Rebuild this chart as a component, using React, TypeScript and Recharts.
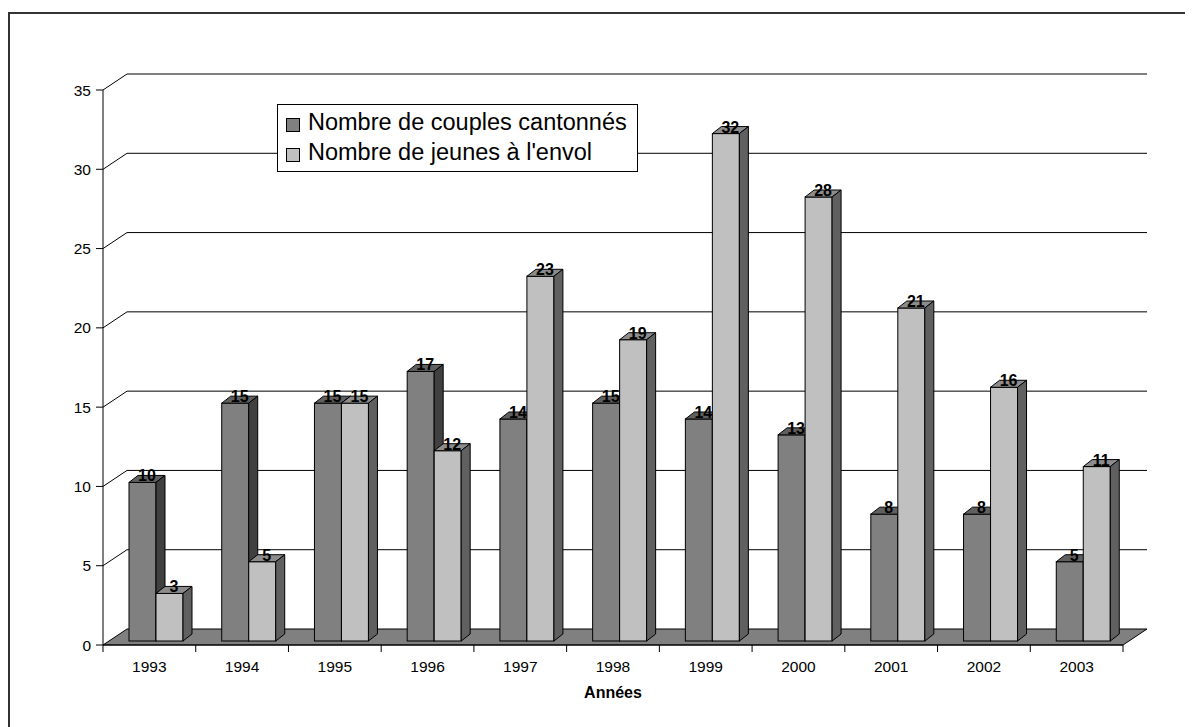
import React from "react";
import { Bar, BarChart, CartesianGrid, XAxis, YAxis } from "recharts";

const YEARS = ["1993", "1994", "1995", "1996", "1997", "1998", "1999", "2000", "2001", "2002", "2003"];
const COUPLES = [10, 15, 15, 17, 14, 15, 14, 13, 8, 8, 5];
const JEUNES = [3, 5, 15, 12, 23, 19, 32, 28, 21, 16, 11];
const Y_TICKS = [0, 5, 10, 15, 20, 25, 30, 35];
const SERIES_NAMES = ["Nombre de couples cantonnés", "Nombre de jeunes à l'envol"];

const data = YEARS.map((year, i) => ({ year, couples: COUPLES[i], jeunes: JEUNES[i] }));

const FONT = '"Liberation Sans", Arial, sans-serif';
const W = 1185;
const H = 719;
const MARGIN = { top: 82, right: 70, bottom: 22, left: 35 };
const Y_AXIS_W = 60;
const X_AXIS_H = 60;
const PLOT_BOTTOM = H - MARGIN.bottom - X_AXIS_H;
const PLOT_W = W - MARGIN.left - MARGIN.right - Y_AXIS_W;

// 3D offsets (back wall depth, bar placement, bar depth)
const WALL_DX = 24;
const WALL_DY = 16;
const BAR_DX = 7;
const BAR_DY = 4;
const SIDE_DX = 9;
const SIDE_DY = 7;

const DARK = { front: "#808080", top: "#606060", side: "#404040" };
const LIGHT = { front: "#c0c0c0", top: "#8c8c8c", side: "#606060" };

type Faces = { front: string; top: string; side: string };

function box3d(colors: Faces, key: "couples" | "jeunes") {
  return (props: any) => {
    const { x, y, width, height, payload } = props;
    const fx = x + BAR_DX;
    const fy = y - BAR_DY;
    const r = fx + width;
    const b = fy + height;
    return (
      <g>
        <rect x={fx} y={fy} width={width} height={height} fill={colors.front} stroke="#000" strokeWidth={1} />
        <polygon
          points={`${fx},${fy} ${fx + SIDE_DX},${fy - SIDE_DY} ${r + SIDE_DX},${fy - SIDE_DY} ${r},${fy}`}
          fill={colors.top}
          stroke="#000"
          strokeWidth={1}
        />
        <polygon
          points={`${r},${fy} ${r + SIDE_DX},${fy - SIDE_DY} ${r + SIDE_DX},${b - SIDE_DY} ${r},${b}`}
          fill={colors.side}
          stroke="#000"
          strokeWidth={1}
        />
        <text
          x={fx + width / 2 + SIDE_DX / 2}
          y={fy - 1}
          textAnchor="middle"
          fontFamily={FONT}
          fontWeight="bold"
          fontSize={16}
          fill="#000"
        >
          {payload[key]}
        </text>
      </g>
    );
  };
}

// back wall gridlines, the zero line becomes the floor
const gridLine = (props: any) => {
  const { x1, x2, y1 } = props;
  if (Math.abs(y1 - PLOT_BOTTOM) < 1) {
    return (
      <polygon
        key="floor"
        points={`${x1},${y1} ${x2},${y1} ${x2 + WALL_DX},${y1 - WALL_DY} ${x1 + WALL_DX},${y1 - WALL_DY}`}
        fill="#808080"
        stroke="#000"
        strokeWidth={1}
      />
    );
  }
  return (
    <path
      key={`g-${y1}`}
      d={`M${x1},${y1} L${x1 + WALL_DX},${y1 - WALL_DY} L${x2 + WALL_DX},${y1 - WALL_DY}`}
      fill="none"
      stroke="#000"
      strokeWidth={1}
    />
  );
};

const XTick = (props: any) => {
  const { x, y, payload, index } = props;
  const half = payload?.offset || PLOT_W / YEARS.length / 2;
  return (
    <g>
      <line x1={x - half} y1={y} x2={x - half} y2={y + 7} stroke="#000" />
      {index === YEARS.length - 1 && <line x1={x + half} y1={y} x2={x + half} y2={y + 7} stroke="#000" />}
      <text x={x} y={y + 27} textAnchor="middle" fontFamily={FONT} fontSize={15.5} fill="#000">
        {payload.value}
      </text>
    </g>
  );
};

export default function App() {
  return (
    <div style={{ position: "relative", width: W, height: H, fontFamily: FONT }}>
      <div
        style={{
          position: "absolute",
          left: 0,
          top: 4,
          width: W,
          height: H - 4,
          borderTop: "2px solid #333",
          borderLeft: "2px solid #333",
          boxSizing: "border-box",
        }}
      />
      <BarChart width={W} height={H} data={data} margin={MARGIN} barSize={27} barGap={0}>
        <CartesianGrid vertical={false} horizontal={gridLine} />
        <XAxis
          dataKey="year"
          height={X_AXIS_H}
          tickSize={0}
          tickMargin={0}
          tickLine={false}
          axisLine={{ stroke: "#000" }}
          tick={<XTick />}
          interval={0}
          label={{
            value: "Années",
            position: "insideBottom",
            offset: 7,
            fill: "#000",
            fontSize: 16,
            fontWeight: "bold",
            fontFamily: FONT,
          }}
        />
        <YAxis
          width={Y_AXIS_W}
          domain={[0, 35]}
          ticks={Y_TICKS}
          interval={0}
          tickSize={7}
          tickMargin={5}
          axisLine={{ stroke: "#000" }}
          tickLine={{ stroke: "#000" }}
          tick={{ fill: "#000", fontSize: 15.5, fontFamily: FONT }}
        />
        <Bar dataKey="couples" name={SERIES_NAMES[0]} fill={DARK.front} shape={box3d(DARK, "couples")} isAnimationActive={false} />
        <Bar dataKey="jeunes" name={SERIES_NAMES[1]} fill={LIGHT.front} shape={box3d(LIGHT, "jeunes")} isAnimationActive={false} />
      </BarChart>
      <div
        style={{
          position: "absolute",
          left: 269,
          top: 96,
          width: 361,
          height: 68,
          border: "1px solid #000",
          background: "#fff",
          boxSizing: "border-box",
          paddingTop: 2,
        }}
      >
        {SERIES_NAMES.map((name, i) => (
          <div key={name} style={{ position: "relative", height: 30 }}>
            <div
              style={{
                position: "absolute",
                left: 8,
                top: 11,
                width: 14,
                height: 14,
                boxSizing: "border-box",
                border: "1px solid #000",
                background: i === 0 ? DARK.front : LIGHT.front,
              }}
            />
            <div
              style={{
                position: "absolute",
                left: 30,
                top: 0,
                lineHeight: "30px",
                fontSize: 23.5,
                whiteSpace: "nowrap",
                color: "#000",
              }}
            >
              {name}
            </div>
          </div>
        ))}
      </div>
    </div>
  );
}
